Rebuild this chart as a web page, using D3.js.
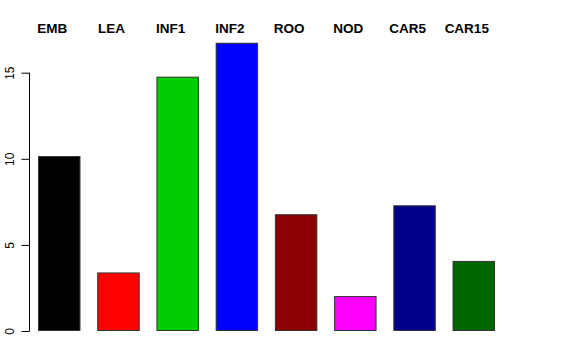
<!DOCTYPE html>
<html lang="en">
<head>
<meta charset="utf-8">
<title>Bar chart</title>
<script src="https://cdn.jsdelivr.net/npm/d3@7"></script>
<style>
  body { margin: 0; background: #fff; }
  svg { display: block; }
  text { font-family: "Liberation Sans", Helvetica, Arial, sans-serif; }
</style>
</head>
<body>
<script>
var categories = ["EMB", "LEA", "INF1", "INF2", "ROO", "NOD", "CAR5", "CAR15"];
var values = [10.16, 3.40, 14.77, 16.74, 6.78, 2.03, 7.30, 4.07];
var colors = ["#000000", "#ff0000", "#00cd00", "#0000ff", "#8b0000", "#ff00ff", "#00008b", "#006400"];
var yTicks = [0, 5, 10, 15];

var w = 576, h = 360;

var svg = d3.select("body").append("svg")
    .attr("width", w)
    .attr("height", h);

var x = d3.scaleBand()
    .domain(categories)
    .range([38, 495])
    .paddingInner(0.283)
    .paddingOuter(0);

var y = d3.scaleLinear()
    .domain([0, 15])
    .range([331, 72.7]);

// bars
svg.selectAll("rect.bar")
    .data(values)
    .enter()
    .append("rect")
    .attr("class", "bar")
    .attr("x", function(d, i) { return x(categories[i]) + 0.5; })
    .attr("y", function(d) { return y(d) + 0.5; })
    .attr("width", x.bandwidth() - 1)
    .attr("height", function(d) { return y(0) - y(d) - 1; })
    .attr("fill", function(d, i) { return colors[i]; })
    .attr("stroke", "#333")
    .attr("stroke-width", 1);

// labels on top
svg.selectAll("text.cat")
    .data(categories)
    .enter()
    .append("text")
    .attr("class", "cat")
    .attr("x", function(d) { return x(d) + x.bandwidth() / 2 - 7; })
    .attr("y", 33)
    .attr("text-anchor", "middle")
    .attr("font-size", "13.5px")
    .attr("font-weight", "bold")
    .text(function(d) { return d; });

// y axis, R style
var axis = d3.axisLeft(y)
    .tickValues(yTicks)
    .tickSize(8)
    .tickPadding(3);

var g = svg.append("g")
    .attr("transform", "translate(29.5,0)")
    .call(axis);

g.select(".domain")
    .attr("d", "M0," + y(0) + "V" + y(15))
    .attr("stroke", "#000");

g.selectAll(".tick line").attr("stroke", "#000");

g.selectAll(".tick text")
    .attr("font-size", "12px")
    .attr("font-family", "Liberation Sans, Helvetica, Arial, sans-serif")
    .attr("fill", "#000")
    .attr("text-anchor", "middle")
    .attr("x", 0)
    .attr("dy", 0)
    .attr("transform", "translate(-16,0) rotate(-90)");
</script>
</body>
</html>
